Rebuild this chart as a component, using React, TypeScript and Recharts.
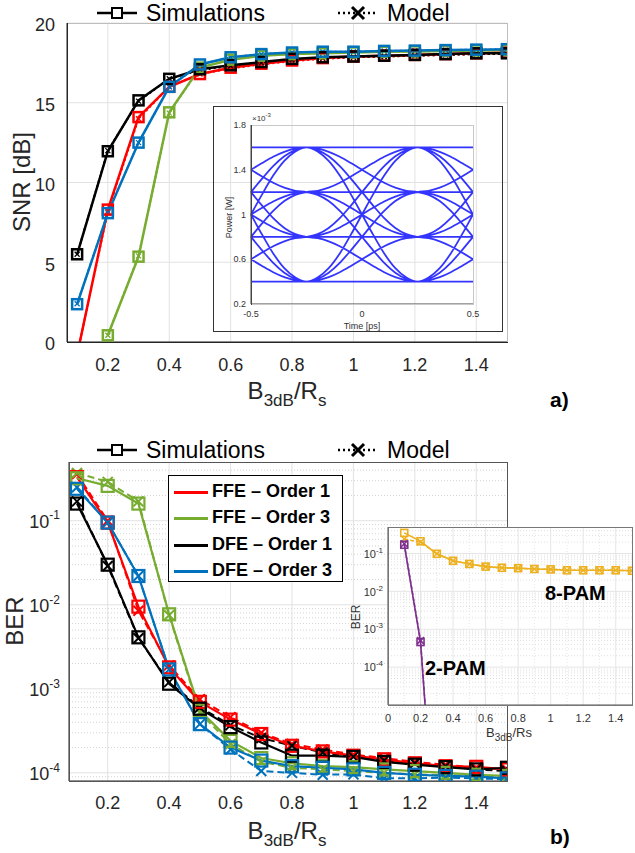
import React from 'react'
import { LineChart, Line, XAxis, YAxis, CartesianGrid, ReferenceLine } from 'recharts'

// ---------- data ----------
const BW = [0.1, 0.2, 0.3, 0.4, 0.5, 0.6, 0.7, 0.8, 0.9, 1.0, 1.1, 1.2, 1.3, 1.4, 1.5]

// a) SNR [dB], simulations
const SNR_FFE1 = [-0.8, 8.3, 14.1, 16.0, 16.8, 17.2, 17.45, 17.65, 17.8, 17.9, 17.95, 18.0, 18.05, 18.1, 18.15]
const SNR_FFE3 = [null, 0.42, 5.35, 14.4, 17.2, 17.7, 17.95, 18.05, 18.1, 18.15, 18.2, 18.22, 18.25, 18.28, 18.3]
const SNR_DFE1 = [5.5, 11.96, 15.15, 16.5, 17.1, 17.35, 17.55, 17.75, 17.85, 17.9, 17.95, 18.0, 18.05, 18.1, 18.1]
const SNR_DFE3 = [2.37, 8.08, 12.5, 16.0, 17.4, 17.85, 18.05, 18.15, 18.2, 18.2, 18.25, 18.27, 18.3, 18.33, 18.36]
// a) SNR [dB], model
const SNR_FFE1_M = [-0.8, 8.2, 14.0, 16.0, 16.8, 17.15, 17.4, 17.6, 17.75, 17.85, 17.9, 17.95, 18.0, 18.05, 18.1]
const SNR_FFE3_M = [null, 0.42, 5.4, 14.35, 17.2, 17.7, 17.95, 18.05, 18.1, 18.15, 18.2, 18.22, 18.25, 18.28, 18.3]
const SNR_DFE1_M = [5.5, 12.0, 15.1, 16.5, 17.05, 17.3, 17.5, 17.7, 17.8, 17.85, 17.9, 17.95, 18.0, 18.05, 18.05]
const SNR_DFE3_M = [2.4, 8.1, 12.5, 16.0, 17.4, 17.85, 18.05, 18.15, 18.2, 18.2, 18.25, 18.27, 18.3, 18.33, 18.36]

// b) BER, simulations
const BER_FFE1 = [0.33, 0.095, 0.0095, 0.0018, 7.0e-4, 4.3e-4, 2.9e-4, 2.1e-4, 1.8e-4, 1.6e-4, 1.45e-4, 1.3e-4, 1.2e-4, 1.18e-4, 1.1e-4]
const BER_FFE3 = [0.32, 0.26, 0.16, 0.0077, 5.5e-4, 2.4e-4, 1.5e-4, 1.3e-4, 1.2e-4, 1.17e-4, 1.1e-4, 1.05e-4, 1.0e-4, 9.5e-5, 9.2e-5]
const BER_DFE1 = [0.16, 0.030, 0.0041, 0.00115, 5.8e-4, 3.5e-4, 2.3e-4, 1.6e-4, 1.6e-4, 1.55e-4, 1.35e-4, 1.25e-4, 1.17e-4, 1.1e-4, 1.15e-4]
const BER_DFE3 = [0.24, 0.095, 0.022, 0.0017, 3.8e-4, 2.0e-4, 1.4e-4, 1.2e-4, 1.15e-4, 1.1e-4, 1.0e-4, 9.5e-5, 9.2e-5, 9.0e-5, 8.6e-5]
// b) BER, model
const BER_FFE1_M = [0.36, 0.1, 0.0085, 0.0019, 7.5e-4, 4.6e-4, 3.0e-4, 2.2e-4, 1.9e-4, 1.65e-4, 1.5e-4, 1.35e-4, 1.25e-4, 1.15e-4, 1.1e-4]
const BER_FFE3_M = [0.37, 0.29, 0.17, 0.0075, 5.2e-4, 2.2e-4, 1.35e-4, 1.15e-4, 1.1e-4, 1.05e-4, 1.0e-4, 9.6e-5, 9.4e-5, 9.2e-5, 9.0e-5]
const BER_DFE1_M = [0.17, 0.029, 0.004, 0.0012, 6.0e-4, 3.7e-4, 2.6e-4, 2.1e-4, 1.75e-4, 1.55e-4, 1.4e-4, 1.3e-4, 1.2e-4, 1.1e-4, 1.05e-4]
const BER_DFE3_M = [0.25, 0.095, 0.022, 0.0017, 3.8e-4, 1.9e-4, 1.05e-4, 1.0e-4, 9.5e-5, 9.6e-5, 8.6e-5, 8.6e-5, 8.8e-5, 8.6e-5, 8.4e-5]

// b) inset: 2-PAM / 8-PAM
const PAM8_SIM = [0.35, 0.21, 0.098, 0.064, 0.053, 0.045, 0.042, 0.041, 0.039, 0.038, 0.036, 0.036, 0.036, 0.036, 0.035]
const PAM8_MOD = [0.24, 0.2, 0.098, 0.064, 0.053, 0.045, 0.042, 0.041, 0.039, 0.038, 0.036, 0.036, 0.036, 0.036, 0.035]
const PAM2_BW = [0.1, 0.2, 0.3]
const PAM2_SIM = [0.17, 4.6e-4, 5e-10]
const PAM2_MOD = [0.18, 5.0e-4, 5e-10]

// a) inset eye diagram: amplitude levels (x1e-3 W), sample times (ps),
// and the shape of one symbol-to-symbol transition (0 -> 1) as read off the eye
const EYE_LEVELS = [0.4, 0.8, 1.2, 1.6]
const EYE_T = [-0.5, -0.45, -0.4, -0.35, -0.3, -0.25, -0.2, -0.15, -0.1, -0.05, 0,
  0.05, 0.1, 0.15, 0.2, 0.25, 0.3, 0.35, 0.4, 0.45, 0.5]
const EYE_STEP = [0, 0.03, 0.1, 0.21, 0.35, 0.5, 0.65, 0.79, 0.9, 0.97, 1]

const X_TICKS = [0.2, 0.4, 0.6, 0.8, 1, 1.2, 1.4]
const SNR_TICKS = [0, 5, 10, 15, 20]
const BER_TICKS = [1e-4, 1e-3, 1e-2, 1e-1]
const BER_MINOR = [9e-5, 2e-4, 3e-4, 4e-4, 5e-4, 6e-4, 7e-4, 8e-4, 9e-4, 2e-3, 3e-3, 4e-3, 5e-3, 6e-3, 7e-3, 8e-3, 9e-3,
  2e-2, 3e-2, 4e-2, 5e-2, 6e-2, 7e-2, 8e-2, 9e-2, 2e-1, 3e-1, 4e-1]
const INSET_X_TICKS = [0, 0.2, 0.4, 0.6, 0.8, 1, 1.2, 1.4]
const INSET_X_MINOR = [0.1, 0.3, 0.5, 0.7, 0.9, 1.1, 1.3]
const INSET_Y_TICKS = [1e-4, 1e-3, 1e-2, 1e-1]
const INSET_Y_MINOR = [2e-5, 3e-5, 4e-5, 5e-5, 6e-5, 7e-5, 8e-5, 9e-5, 2e-4, 3e-4, 4e-4, 5e-4, 6e-4, 7e-4, 8e-4, 9e-4,
  2e-3, 3e-3, 4e-3, 5e-3, 6e-3, 7e-3, 8e-3, 9e-3, 2e-2, 3e-2, 4e-2, 5e-2, 6e-2, 7e-2, 8e-2, 9e-2, 2e-1, 3e-1, 4e-1]
const EYE_X_TICKS = [-0.5, 0, 0.5]
const EYE_Y_TICKS = [0.2, 0.4, 0.6, 0.8, 1, 1.2, 1.4, 1.6, 1.8]

const SERIES = [
  { name: 'FFE – Order 1', color: '#ff0000', snr: SNR_FFE1, snrM: SNR_FFE1_M, ber: BER_FFE1, berM: BER_FFE1_M },
  { name: 'FFE – Order 3', color: '#77ac30', snr: SNR_FFE3, snrM: SNR_FFE3_M, ber: BER_FFE3, berM: BER_FFE3_M },
  { name: 'DFE – Order 1', color: '#000000', snr: SNR_DFE1, snrM: SNR_DFE1_M, ber: BER_DFE1, berM: BER_DFE1_M },
  { name: 'DFE – Order 3', color: '#0072bd', snr: SNR_DFE3, snrM: SNR_DFE3_M, ber: BER_DFE3, berM: BER_DFE3_M },
]

const FONT = '"Liberation Sans", Arial, Helvetica, sans-serif'
const AX = '#262626'
const GRID = '#e2e2e2'

// ---------- tables ----------
const snrRows = BW.map((bw, i) => {
  const r: any = { bw }
  SERIES.forEach((s, k) => { r['s' + k] = s.snr[i]; r['m' + k] = s.snrM[i] })
  return r
})
const berRows = BW.map((bw, i) => {
  const r: any = { bw }
  SERIES.forEach((s, k) => { r['s' + k] = s.ber[i]; r['m' + k] = s.berM[i] })
  return r
})
const pam8Rows = BW.map((bw, i) => ({ bw, s: PAM8_SIM[i], m: PAM8_MOD[i] }))
const pam2Rows = PAM2_BW.map((bw, i) => ({ bw, s: PAM2_SIM[i], m: PAM2_MOD[i] }))

// every combination of (previous, first, second, next) symbol gives one trace
const eyeRows: any[] = []
EYE_LEVELS.forEach(p => EYE_LEVELS.forEach(a => EYE_LEVELS.forEach(b => EYE_LEVELS.forEach(n => {
  EYE_T.forEach((t, j) => {
    let v
    if (j <= 5) v = p + (a - p) * EYE_STEP[j + 5]
    else if (j <= 15) v = a + (b - a) * EYE_STEP[j - 5]
    else v = b + (n - b) * EYE_STEP[j - 15]
    eyeRows.push({ t, v })
  })
  eyeRows.push({ t: 0.5, v: null })
}))))

// ---------- markers ----------
const squareDot = (color: string, size: number, sw: number) => (p: any) => {
  const { cx, cy, index } = p
  if (cx == null || cy == null || isNaN(cy)) return <g key={index} />
  return <rect key={index} x={cx - size / 2} y={cy - size / 2} width={size} height={size} fill="none" stroke={color} strokeWidth={sw} />
}
const crossDot = (color: string, h: number, sw: number) => (p: any) => {
  const { cx, cy, index } = p
  if (cx == null || cy == null || isNaN(cy)) return <g key={index} />
  return (
    <g key={index} stroke={color} strokeWidth={sw}>
      <line x1={cx - h} y1={cy - h} x2={cx + h} y2={cy + h} />
      <line x1={cx - h} y1={cy + h} x2={cx + h} y2={cy - h} />
    </g>
  )
}

// ---------- ticks ----------
const xTick = (dy: number, size: number, fill = AX) => (p: any) => (
  <text x={p.x} y={p.y + dy} textAnchor="middle" fontSize={size} fill={fill} fontFamily={FONT}>
    {String(p.payload.value)}
  </text>
)
const yTick = (dx: number, size: number, fill = AX, shift = 0) => (p: any) => (
  <text x={p.x - dx} y={p.y + size * 0.35 + shift} textAnchor="end" fontSize={size} fill={fill} fontFamily={FONT}>
    {String(p.payload.value)}
  </text>
)
const logTick = (dx: number, size: number, sup: number, fill = AX) => (p: any) => {
  const e = Math.round(Math.log10(p.payload.value))
  return (
    <text x={p.x - dx} y={p.y + size * 0.38} textAnchor="end" fontSize={size} fill={fill} fontFamily={FONT}>
      <tspan>10</tspan>
      <tspan fontSize={sup} dy={-size * 0.45}>{String(e)}</tspan>
    </text>
  )
}

// ---------- pieces ----------
function TopLegend({ top }: { top: number }) {
  return (
    <div style={{ position: 'absolute', left: 0, top, width: 635, height: 26, fontSize: 23, fontFamily: FONT }}>
      <svg style={{ position: 'absolute', left: 95, top: 0 }} width={44} height={26}>
        <line x1={2} y1={13} x2={42} y2={13} stroke="#000" strokeWidth={2.5} />
        <rect x={17} y={8} width={10} height={10} fill="#fff" stroke="#000" strokeWidth={2} />
      </svg>
      <div style={{ position: 'absolute', left: 146, top: 0, lineHeight: '26px' }}>Simulations</div>
      <svg style={{ position: 'absolute', left: 336, top: 0 }} width={44} height={26}>
        <line x1={2} y1={13} x2={42} y2={13} stroke="#000" strokeWidth={2.5} strokeDasharray="2 3" />
        <g stroke="#000" strokeWidth={3}>
          <line x1={16} y1={7} x2={28} y2={19} />
          <line x1={16} y1={19} x2={28} y2={7} />
        </g>
      </svg>
      <div style={{ position: 'absolute', left: 387, top: 0, lineHeight: '26px' }}>Model</div>
    </div>
  )
}

function XLabel({ cx, top, size, sub }: { cx: number; top: number; size: number; sub: number }) {
  return (
    <div style={{ position: 'absolute', left: cx - 100, top, width: 200, textAlign: 'center', fontSize: size, fontFamily: FONT, color: AX, lineHeight: 1 }}>
      B<span style={{ fontSize: sub, verticalAlign: -size * 0.3 }}>3dB</span>/R<span style={{ fontSize: sub, verticalAlign: -size * 0.3 }}>s</span>
    </div>
  )
}

function RotLabel({ cx, cy, size, text, color = AX }: { cx: number; cy: number; size: number; text: string; color?: string }) {
  return (
    <div style={{ position: 'absolute', left: cx - 100, top: cy - size * 0.5, width: 200, height: size, textAlign: 'center', fontSize: size, fontFamily: FONT, color, lineHeight: 1, transform: 'rotate(-90deg)' }}>
      {text}
    </div>
  )
}

function Box({ l, t, r, b, color, w = 1 }: any) {
  return <div style={{ position: 'absolute', left: l, top: t, width: r - l, height: b - t, border: `${w}px solid ${color}`, boxSizing: 'border-box', pointerEvents: 'none' }} />
}

export default function App() {
  return (
    <div style={{ position: 'relative', width: 635, height: 853, background: '#fff', fontFamily: FONT, overflow: 'hidden' }}>
      <style>{'body{margin:0}'}</style>

      {/* ===== a) SNR ===== */}
      <div style={{ position: 'absolute', left: 0, top: 0 }}>
        <LineChart width={635} height={400} data={snrRows} margin={{ top: 23, right: 128, left: 0, bottom: 0 }}>
          <CartesianGrid stroke={GRID} verticalValues={X_TICKS} horizontalValues={SNR_TICKS} />
          <XAxis dataKey="bw" type="number" domain={[0.067, 1.5]} ticks={X_TICKS} allowDataOverflow height={58}
            tickLine={false} tickSize={0} axisLine={{ stroke: AX }} tick={xTick(27, 18)} />
          <YAxis type="number" domain={[0, 20]} ticks={SNR_TICKS} allowDataOverflow width={67}
            tickLine={false} tickSize={0} axisLine={{ stroke: AX }} tick={yTick(10, 18, AX, 2)} />
          {SERIES.map((s, k) => (
            <Line key={'m' + k} dataKey={'m' + k} stroke={s.color} strokeWidth={2} strokeDasharray="2 3"
              dot={crossDot(s.color, 2.5, 1.3)} isAnimationActive={false} connectNulls={false} />
          ))}
          {SERIES.map((s, k) => (
            <Line key={'s' + k} dataKey={'s' + k} stroke={s.color} strokeWidth={2.5}
              dot={squareDot(s.color, 10, 2.5)} isAnimationActive={false} connectNulls={false} />
          ))}
        </LineChart>
      </div>
      <Box l={67} t={23} r={508} b={343} color="#bdbdbd" />
      <div style={{ position: 'absolute', left: 67, top: 23, width: 1, height: 320, background: AX }} />
      <div style={{ position: 'absolute', left: 67, top: 342, width: 441, height: 1, background: AX }} />
      <TopLegend top={0} />
      <RotLabel cx={22} cy={182} size={24} text="SNR [dB]" />
      <XLabel cx={287} top={379} size={24} sub={17} />
      <div style={{ position: 'absolute', left: 550, top: 388, fontSize: 21, fontWeight: 'bold', color: '#000' }}>a)</div>

      {/* a) inset eye diagram */}
      <div style={{ position: 'absolute', left: 214, top: 107 }}>
        <LineChart width={288} height={224} margin={{ top: 18, right: 29, left: 0, bottom: 0 }}>
          <XAxis dataKey="t" type="number" domain={[-0.5, 0.5]} ticks={EYE_X_TICKS} height={27}
            tickLine={false} tickSize={0} axisLine={{ stroke: '#444' }} tick={xTick(11, 9, '#333')} />
          <YAxis type="number" domain={[0.2, 1.8]} ticks={EYE_Y_TICKS} allowDataOverflow width={37}
            tickLine={false} tickSize={0} axisLine={{ stroke: '#444' }} tick={yTick(3, 9, '#333')} />
          <Line data={eyeRows} dataKey="v" type="monotone" stroke="#1010ff" strokeWidth={1.8} strokeOpacity={0.85}
            dot={false} isAnimationActive={false} connectNulls={false} />
        </LineChart>
      </div>
      <Box l={251} t={125} r={474} b={305} color="#c8c8c8" />
      <div style={{ position: 'absolute', left: 251, top: 125, width: 1, height: 180, background: '#444' }} />
      <Box l={213} t={106} r={503} b={332} color="#333" w={1.5} />
      <div style={{ position: 'absolute', left: 252, top: 112, fontSize: 8, color: '#333' }}>×10<sup style={{ fontSize: 6 }}>-3</sup></div>
      <RotLabel cx={229} cy={217} size={9} text="Power [W]" color="#333" />
      <div style={{ position: 'absolute', left: 312, top: 321, width: 100, textAlign: 'center', fontSize: 9, color: '#333' }}>Time [ps]</div>

      {/* ===== b) BER ===== */}
      <div style={{ position: 'absolute', left: 0, top: 440 }}>
        <LineChart width={635} height={400} data={berRows} margin={{ top: 22, right: 128, left: 0, bottom: 0 }}>
          <CartesianGrid stroke={GRID} verticalValues={X_TICKS} horizontalValues={BER_TICKS} />
          {BER_MINOR.map(v => (
            <ReferenceLine key={v} y={v} stroke="#d4d4d4" strokeDasharray="1 2" />
          ))}
          <XAxis dataKey="bw" type="number" domain={[0.074, 1.5]} ticks={X_TICKS} allowDataOverflow height={59}
            tickLine={false} tickSize={0} axisLine={{ stroke: AX }} tick={xTick(26, 18)} />
          <YAxis type="number" scale="log" domain={[8e-5, 0.5]} ticks={BER_TICKS} allowDataOverflow width={69}
            tickLine={false} tickSize={0} axisLine={{ stroke: AX }} tick={logTick(7, 18, 12)} />
          {SERIES.map((s, k) => (
            <Line key={'m' + k} dataKey={'m' + k} stroke={s.color} strokeWidth={2} strokeDasharray="7 4"
              dot={crossDot(s.color, 5, 2)} isAnimationActive={false} />
          ))}
          {SERIES.map((s, k) => (
            <Line key={'s' + k} dataKey={'s' + k} stroke={s.color} strokeWidth={2.2}
              dot={squareDot(s.color, 12, 2.2)} isAnimationActive={false} />
          ))}
        </LineChart>
      </div>
      <Box l={69} t={462} r={508} b={782} color="#555" />
      <TopLegend top={437} />
      <RotLabel cx={15} cy={621} size={24} text="BER" />
      <XLabel cx={287} top={819} size={24} sub={17} />
      <div style={{ position: 'absolute', left: 550, top: 825, fontSize: 21, fontWeight: 'bold', color: '#000' }}>b)</div>

      {/* b) legend box */}
      <div style={{ position: 'absolute', left: 168, top: 475, width: 175, height: 107, background: '#fff', border: '1.5px solid #000', boxSizing: 'border-box' }}>
        {SERIES.map((s, k) => (
          <div key={k} style={{ position: 'absolute', left: 0, top: [3, 29, 56, 82][k], height: 26, width: 175 }}>
            <div style={{ position: 'absolute', left: 5, top: 12, width: 34, height: 3, background: s.color }} />
            <div style={{ position: 'absolute', left: 43, top: 2, fontSize: 18, fontWeight: 'bold', color: '#000', whiteSpace: 'nowrap' }}>{s.name}</div>
          </div>
        ))}
      </div>

      {/* b) inset 2-PAM / 8-PAM */}
      <div style={{ position: 'absolute', left: 388, top: 527, width: 244, height: 178, background: '#fff' }} />
      <div style={{ position: 'absolute', left: 340, top: 520 }}>
        <LineChart width={295} height={230} margin={{ top: 7, right: 3, left: 0, bottom: 0 }}>
          <CartesianGrid stroke="#e6e6e6" verticalValues={INSET_X_TICKS} horizontalValues={INSET_Y_TICKS} />
          {INSET_Y_MINOR.map(v => (
            <ReferenceLine key={'y' + v} y={v} stroke="#e0e0e0" strokeDasharray="1 2" />
          ))}
          {INSET_X_MINOR.map(v => (
            <ReferenceLine key={'x' + v} x={v} stroke="#e6e6e6" strokeDasharray="1 2" />
          ))}
          <XAxis dataKey="bw" type="number" domain={[0, 1.5]} ticks={INSET_X_TICKS} allowDataOverflow height={45}
            tickLine={false} tickSize={0} axisLine={{ stroke: '#555' }} tick={xTick(15, 11, '#333')} />
          <YAxis type="number" scale="log" domain={[1e-5, 0.5]} ticks={INSET_Y_TICKS} allowDataOverflow width={48}
            tickLine={false} tickSize={0} axisLine={{ stroke: '#555' }} tick={logTick(3, 11, 8, '#333')} />
          <Line data={pam8Rows} dataKey="m" stroke="#edb120" strokeWidth={1.5} strokeDasharray="4 2"
            dot={crossDot('#edb120', 3.5, 1.5)} isAnimationActive={false} />
          <Line data={pam8Rows} dataKey="s" stroke="#edb120" strokeWidth={1.6}
            dot={squareDot('#edb120', 7, 1.6)} isAnimationActive={false} />
          <Line data={pam2Rows} dataKey="m" stroke="#7e2f8e" strokeWidth={1.5} strokeDasharray="4 2"
            dot={crossDot('#7e2f8e', 3.5, 1.5)} isAnimationActive={false} />
          <Line data={pam2Rows} dataKey="s" stroke="#7e2f8e" strokeWidth={1.6}
            dot={squareDot('#7e2f8e', 7, 1.6)} isAnimationActive={false} />
        </LineChart>
      </div>
      <Box l={388} t={527} r={633} b={706} color="#777" />
      <RotLabel cx={356} cy={617} size={12} text="BER" color="#333" />
      <div style={{ position: 'absolute', left: 486, top: 726, fontSize: 13, color: '#333', fontFamily: FONT, lineHeight: 1 }}>
        B<span style={{ fontSize: 10, verticalAlign: -4 }}>3dB</span>/Rs
      </div>
      <div style={{ position: 'absolute', left: 545, top: 582, fontSize: 20, fontWeight: 'bold', color: '#000' }}>8-PAM</div>
      <div style={{ position: 'absolute', left: 425, top: 657, fontSize: 20, fontWeight: 'bold', color: '#000' }}>2-PAM</div>
    </div>
  )
}
